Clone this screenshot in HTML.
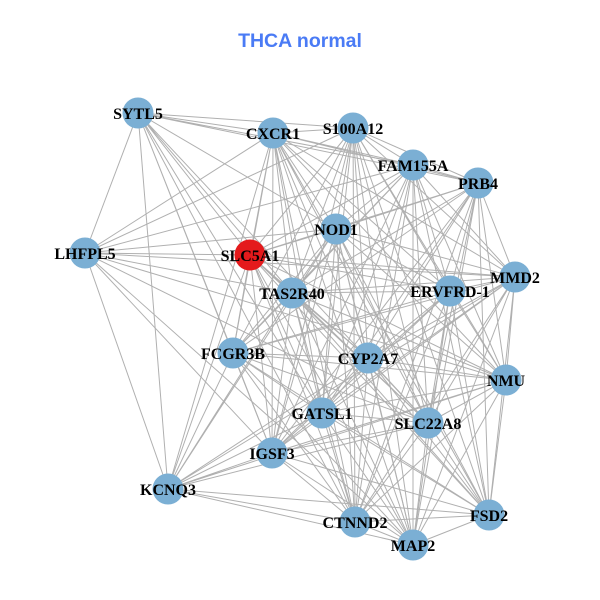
<!DOCTYPE html>
<html><head><meta charset="utf-8"><style>
html,body{margin:0;padding:0;background:#fff;}
svg{display:block;}
.t{font-family:"Liberation Sans",Arial,sans-serif;font-weight:bold;font-size:19.5px;fill:#4a7bf5;}
.l{font-family:"Liberation Serif","Times New Roman",serif;font-weight:bold;font-size:16px;fill:#000;}
</style></head><body>
<svg width="600" height="600" viewBox="0 0 600 600" xmlns="http://www.w3.org/2000/svg">
<rect width="600" height="600" fill="#fff"/>
<text class="t" x="300" y="47" text-anchor="middle">THCA normal</text>
<g stroke="#b0b0b0" stroke-width="1" fill="none">
<path d="M138 113L273 133M138 113L353 128M138 113L413 165M138 113L478 183M138 113L85 253M138 113L168 489M138 113L233 353M138 113L272 453M138 113L322 413M138 113L292 293M138 113L355 522M138 113L428 423M138 113L336 229M138 113L250 255"/>
<path d="M85 253L273 133M85 253L353 128M85 253L413 165M85 253L336 229M85 253L250 255M85 253L515 277M85 253L292 293M85 253L506 380M85 253L428 423M85 253L272 453M85 253L168 489M85 253L413 545"/>
<path d="M168 489L233 353M168 489L250 255M168 489L273 133M168 489L336 229M168 489L292 293M168 489L515 277M168 489L506 380M168 489L322 413M168 489L428 423M168 489L272 453M168 489L489 515M168 489L355 522M168 489L413 545M168 489L368 358"/>
<path d="M273 133L353 128M273 133L413 165M273 133L478 183M273 133L250 255M273 133L336 229M273 133L292 293M273 133L450 291M273 133L515 277M273 133L233 353M273 133L368 358M273 133L506 380M273 133L322 413M273 133L428 423M273 133L272 453M273 133L355 522M273 133L413 545M273 133L489 515"/>
<path d="M353 128L413 165M353 128L478 183M353 128L250 255M353 128L336 229M353 128L292 293M353 128L450 291M353 128L515 277M353 128L233 353M353 128L368 358M353 128L506 380M353 128L322 413M353 128L428 423M353 128L272 453M353 128L355 522M353 128L413 545M353 128L489 515"/>
<path d="M413 165L478 183M413 165L250 255M413 165L336 229M413 165L292 293M413 165L450 291M413 165L515 277M413 165L233 353M413 165L368 358M413 165L506 380M413 165L322 413M413 165L428 423M413 165L272 453M413 165L355 522M413 165L413 545M413 165L489 515"/>
<path d="M478 183L250 255M478 183L336 229M478 183L292 293M478 183L450 291M478 183L515 277M478 183L233 353M478 183L368 358M478 183L506 380M478 183L322 413M478 183L428 423M478 183L272 453M478 183L355 522M478 183L413 545M478 183L489 515"/>
<path d="M250 255L336 229M250 255L292 293M250 255L450 291M250 255L515 277M250 255L233 353M250 255L368 358M250 255L506 380M250 255L322 413M250 255L428 423M250 255L272 453M250 255L355 522M250 255L413 545M250 255L489 515"/>
<path d="M336 229L292 293M336 229L450 291M336 229L515 277M336 229L233 353M336 229L368 358M336 229L506 380M336 229L322 413M336 229L428 423M336 229L272 453M336 229L355 522M336 229L413 545M336 229L489 515"/>
<path d="M292 293L450 291M292 293L515 277M292 293L233 353M292 293L368 358M292 293L506 380M292 293L322 413M292 293L428 423M292 293L272 453M292 293L355 522M292 293L413 545M292 293L489 515"/>
<path d="M450 291L515 277M450 291L233 353M450 291L368 358M450 291L506 380M450 291L322 413M450 291L428 423M450 291L272 453M450 291L355 522M450 291L413 545M450 291L489 515"/>
<path d="M515 277L233 353M515 277L368 358M515 277L506 380M515 277L322 413M515 277L428 423M515 277L272 453M515 277L355 522M515 277L413 545M515 277L489 515"/>
<path d="M233 353L368 358M233 353L506 380M233 353L322 413M233 353L428 423M233 353L272 453M233 353L355 522M233 353L413 545M233 353L489 515"/>
<path d="M368 358L506 380M368 358L322 413M368 358L428 423M368 358L272 453M368 358L355 522M368 358L413 545M368 358L489 515"/>
<path d="M506 380L322 413M506 380L428 423M506 380L272 453M506 380L355 522M506 380L413 545M506 380L489 515"/>
<path d="M322 413L428 423M322 413L272 453M322 413L355 522M322 413L413 545M322 413L489 515"/>
<path d="M428 423L272 453M428 423L355 522M428 423L413 545M428 423L489 515"/>
<path d="M272 453L355 522M272 453L413 545M272 453L489 515"/>
<path d="M355 522L413 545M355 522L489 515M413 545L489 515"/>
</g>
<g fill="#7bafd4">
<circle cx="138" cy="113" r="15.5"/>
<circle cx="273" cy="133" r="15.5"/>
<circle cx="353" cy="128" r="15.5"/>
<circle cx="413" cy="165" r="15.5"/>
<circle cx="478" cy="183" r="15.5"/>
<circle cx="85" cy="253" r="15.5"/>
<circle cx="336" cy="229" r="15.5"/>
<circle cx="292" cy="293" r="15.5"/>
<circle cx="450" cy="291" r="15.5"/>
<circle cx="515" cy="277" r="15.5"/>
<circle cx="233" cy="353" r="15.5"/>
<circle cx="368" cy="358" r="15.5"/>
<circle cx="506" cy="380" r="15.5"/>
<circle cx="322" cy="413" r="15.5"/>
<circle cx="428" cy="423" r="15.5"/>
<circle cx="272" cy="453" r="15.5"/>
<circle cx="168" cy="489" r="15.5"/>
<circle cx="355" cy="522" r="15.5"/>
<circle cx="413" cy="545" r="15.5"/>
<circle cx="489" cy="515" r="15.5"/>
</g>
<circle cx="250" cy="255" r="15.5" fill="#e41a1c"/>
<g class="l" text-anchor="middle">
<text x="138" y="119">SYTL5</text>
<text x="273" y="139">CXCR1</text>
<text x="353" y="134">S100A12</text>
<text x="413" y="171">FAM155A</text>
<text x="478" y="189">PRB4</text>
<text x="85" y="259">LHFPL5</text>
<text x="250" y="261">SLC5A1</text>
<text x="336" y="235">NOD1</text>
<text x="292" y="299">TAS2R40</text>
<text x="450" y="297">ERVFRD-1</text>
<text x="515" y="283">MMD2</text>
<text x="233" y="359">FCGR3B</text>
<text x="368" y="364">CYP2A7</text>
<text x="506" y="386">NMU</text>
<text x="322" y="419">GATSL1</text>
<text x="428" y="429">SLC22A8</text>
<text x="272" y="459">IGSF3</text>
<text x="168" y="495">KCNQ3</text>
<text x="355" y="528">CTNND2</text>
<text x="413" y="551">MAP2</text>
<text x="489" y="521">FSD2</text>
</g>
</svg>
</body></html>
